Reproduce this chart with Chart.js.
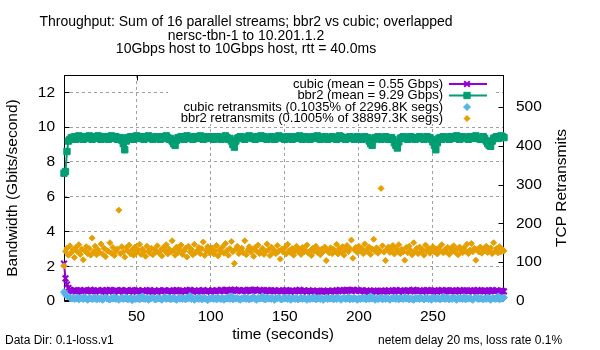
<!DOCTYPE html>
<html><head><meta charset="utf-8">
<script src="https://cdn.jsdelivr.net/npm/chart.js@4/dist/chart.umd.min.js"></script>
<style>html,body{margin:0;padding:0;background:#fff;}canvas{display:block;}</style>
</head><body>
<canvas id="c" width="600" height="350"></canvas>
<script>
const seconds = [
1,2,3,4,5,6,7,8,9,10,11,12,13,14,15,16,17,18,19,20,
21,22,23,24,25,26,27,28,29,30,31,32,33,34,35,36,37,38,39,40,
41,42,43,44,45,46,47,48,49,50,51,52,53,54,55,56,57,58,59,60,
61,62,63,64,65,66,67,68,69,70,71,72,73,74,75,76,77,78,79,80,
81,82,83,84,85,86,87,88,89,90,91,92,93,94,95,96,97,98,99,100,
101,102,103,104,105,106,107,108,109,110,111,112,113,114,115,116,117,118,119,120,
121,122,123,124,125,126,127,128,129,130,131,132,133,134,135,136,137,138,139,140,
141,142,143,144,145,146,147,148,149,150,151,152,153,154,155,156,157,158,159,160,
161,162,163,164,165,166,167,168,169,170,171,172,173,174,175,176,177,178,179,180,
181,182,183,184,185,186,187,188,189,190,191,192,193,194,195,196,197,198,199,200,
201,202,203,204,205,206,207,208,209,210,211,212,213,214,215,216,217,218,219,220,
221,222,223,224,225,226,227,228,229,230,231,232,233,234,235,236,237,238,239,240,
241,242,243,244,245,246,247,248,249,250,251,252,253,254,255,256,257,258,259,260,
261,262,263,264,265,266,267,268,269,270,271,272,273,274,275,276,277,278,279,280,
281,282,283,284,285,286,287,288,289,290,291,292,293,294,295,296,297,298];

const cubicGbps = [
2.15,1.3,0.95,0.75,0.65,0.6,0.57,0.62,0.55,0.6,0.58,0.63,0.54,0.6,0.62,0.57,0.55,0.61,0.64,0.58,
0.6,0.55,0.58,0.62,0.56,0.6,0.63,0.57,0.54,0.61,0.58,0.64,0.6,0.55,0.58,0.62,0.59,0.54,0.6,0.63,
0.58,0.55,0.61,0.58,0.53,0.6,0.63,0.56,0.59,0.54,0.61,0.58,0.55,0.62,0.58,0.54,0.6,0.58,0.63,0.56,
0.54,0.6,0.58,0.55,0.61,0.58,0.53,0.59,0.62,0.58,0.55,0.6,0.58,0.54,0.61,0.58,0.63,0.56,0.59,0.55,
0.6,0.58,0.54,0.61,0.58,0.64,0.59,0.55,0.6,0.58,0.54,0.61,0.56,0.59,0.63,0.58,0.55,0.6,0.58,0.54,
0.61,0.58,0.55,0.62,0.59,0.58,0.64,0.6,0.56,0.61,0.65,0.6,0.58,0.63,0.6,0.66,0.61,0.58,0.62,0.6,
0.58,0.63,0.6,0.56,0.61,0.64,0.6,0.58,0.62,0.66,0.61,0.59,0.63,0.6,0.56,0.61,0.58,0.63,0.6,0.55,
0.6,0.58,0.62,0.59,0.55,0.61,0.58,0.54,0.6,0.58,0.63,0.56,0.59,0.54,0.6,0.58,0.55,0.61,0.58,0.64,
0.59,0.55,0.6,0.58,0.54,0.61,0.58,0.55,0.6,0.56,0.53,0.59,0.55,0.58,0.54,0.6,0.56,0.54,0.59,0.58,
0.55,0.6,0.58,0.54,0.61,0.58,0.63,0.6,0.56,0.61,0.58,0.64,0.6,0.62,0.58,0.65,0.61,0.58,0.63,0.6,
0.58,0.62,0.59,0.55,0.6,0.58,0.54,0.59,0.55,0.6,0.58,0.53,0.58,0.55,0.6,0.58,0.54,0.59,0.56,0.61,
0.58,0.55,0.6,0.58,0.63,0.59,0.55,0.61,0.58,0.54,0.6,0.58,0.62,0.59,0.55,0.6,0.64,0.58,0.61,0.56,
0.6,0.58,0.54,0.61,0.58,0.63,0.6,0.55,0.59,0.58,0.62,0.58,0.54,0.6,0.58,0.63,0.59,0.55,0.61,0.58,
0.6,0.56,0.62,0.58,0.54,0.6,0.58,0.63,0.59,0.55,0.6,0.58,0.62,0.56,0.6,0.58,0.54,0.61,0.58,0.63,
0.59,0.55,0.6,0.58,0.62,0.58,0.54,0.6,0.58,0.63,0.6,0.56,0.61,0.58,0.54,0.6,0.58,0.55];

const bbr2Gbps = [
7.35,7.45,8.6,9.2,9.3,9.4,9.35,9.45,9.3,9.4,9.5,9.35,9.4,9.3,9.45,9.4,9.35,9.5,9.4,9.3,
9.45,9.4,9.35,9.5,9.45,9.3,9.4,9.35,9.45,9.4,9.3,9.4,9.5,9.35,9.4,9.45,9.3,9.35,9.4,9.25,
9.05,8.7,9.2,9.4,9.35,9.45,9.4,9.3,9.4,9.5,9.35,9.4,9.45,9.35,9.3,9.4,9.45,9.5,9.4,9.35,
9.3,9.4,9.45,9.35,9.4,9.3,9.45,9.4,9.35,9.5,9.4,9.3,9.35,9.2,9.05,8.95,9.25,9.4,9.35,9.45,
9.4,9.3,9.45,9.5,9.4,9.35,9.4,9.3,9.45,9.4,9.35,9.4,9.5,9.4,9.3,9.35,9.45,9.4,9.35,9.4,
9.45,9.3,9.4,9.35,9.45,9.4,9.3,9.4,9.35,9.5,9.4,9.3,9.35,9.2,9.0,8.85,9.2,9.35,9.4,9.45,
9.4,9.35,9.3,9.4,9.45,9.5,9.4,9.35,9.4,9.3,9.45,9.4,9.35,9.5,9.4,9.45,9.35,9.3,9.4,9.35,
9.45,9.4,9.3,9.35,9.4,9.5,9.45,9.4,9.35,9.3,9.4,9.45,9.35,9.4,9.3,9.45,9.4,9.35,9.4,9.5,
9.4,9.3,9.35,9.45,9.4,9.35,9.3,9.4,9.45,9.4,9.35,9.5,9.4,9.3,9.4,9.35,9.45,9.4,9.3,9.35,
9.4,9.45,9.35,9.4,9.3,9.4,9.5,9.45,9.35,9.4,9.3,9.35,9.4,9.45,9.4,9.35,9.3,9.4,9.45,9.35,
9.4,9.3,9.4,9.45,9.35,9.4,9.2,9.05,8.95,9.3,9.4,9.35,9.45,9.4,9.3,9.4,9.35,9.45,9.4,9.3,
9.35,9.4,9.3,9.1,8.95,8.8,9.15,9.35,9.4,9.45,9.35,9.4,9.3,9.4,9.45,9.35,9.4,9.3,9.4,9.35,
9.45,9.4,9.35,9.3,9.4,9.45,9.35,9.4,9.3,9.15,8.95,8.7,9.1,9.35,9.4,9.3,9.45,9.4,9.35,9.4,
9.3,9.45,9.4,9.35,9.4,9.5,9.4,9.3,9.35,9.45,9.4,9.35,9.4,9.3,9.45,9.4,9.35,9.4,9.5,9.4,
9.35,9.3,9.4,9.45,9.35,9.2,9.05,8.95,8.9,9.2,9.35,9.4,9.45,9.35,9.4,9.5,9.45,9.4];

const cubicRetrans = [
23,17,13,11,9,7,8,5,6,9,4,7,8,5,10,6,3,8,7,5,
6,9,4,7,5,8,3,6,9,7,5,4,8,6,10,5,7,3,6,8,
5,7,9,4,6,8,2,7,5,6,9,4,7,12,6,5,8,3,6,7,
9,5,4,8,6,7,3,6,10,5,7,8,4,6,9,5,3,7,6,8,
5,7,4,9,6,13,5,8,3,6,7,5,9,4,6,8,5,2,7,6,
8,5,7,4,9,6,5,8,3,7,6,9,5,12,4,7,6,8,5,3,
7,6,9,5,8,4,6,7,10,5,3,8,6,7,12,5,4,9,6,7,
5,8,3,6,7,9,5,4,8,6,7,5,9,3,6,8,5,7,4,6,
9,5,7,6,3,8,5,7,6,10,4,6,8,5,7,3,6,9,5,7,
6,8,4,7,5,9,6,3,7,8,5,6,10,4,7,5,8,6,3,7,
5,8,6,9,4,7,5,12,6,8,3,7,5,6,9,4,7,5,8,6,
3,7,6,9,5,8,4,7,6,5,10,6,8,4,7,5,3,8,6,7,
5,9,6,4,8,7,5,6,3,9,7,5,8,6,4,7,11,5,6,8,
4,7,5,9,6,3,8,6,7,5,10,4,7,6,8,5,3,7,9,6,
5,8,6,4,7,5,9,6,3,8,7,5,6,12,4,7,6,9];

const bbr2Retrans = [
90,128,136,118,142,125,131,112,138,127,145,120,133,106,129,140,122,135,118,162,
127,141,119,132,125,147,121,136,114,130,128,150,123,138,117,129,134,234,122,140,
126,113,137,129,144,121,132,118,139,125,131,146,120,134,127,115,141,128,123,136,
119,133,127,142,124,130,116,138,129,145,121,134,126,155,131,118,139,125,132,144,
120,128,136,113,141,127,133,119,146,125,130,138,122,135,152,117,129,140,124,131,
137,121,128,143,116,132,126,139,123,148,130,118,135,153,127,97,134,141,122,129,
136,124,155,119,131,140,126,133,115,138,128,144,122,130,136,120,127,147,132,117,
139,125,131,122,143,128,108,134,126,137,121,146,130,124,135,118,129,141,127,133,
120,138,126,131,144,123,129,117,136,128,141,125,132,119,134,127,139,104,130,124,
137,122,133,128,146,121,135,126,140,118,131,143,127,135,157,110,132,138,125,141,
129,136,122,147,131,126,139,120,134,159,128,137,123,131,290,142,126,104,133,139,
125,131,143,121,136,128,145,122,133,127,105,138,124,141,130,119,150,128,135,122,
139,127,132,118,144,129,136,123,131,140,126,134,121,137,129,145,124,132,127,138,
120,135,128,142,126,133,119,139,130,124,137,128,146,122,131,148,127,136,105,133,
126,139,123,134,129,141,125,132,137,122,150,128,135,124,140,127,133,129];

const xTickValues = [50, 100, 150, 200, 250];
const yTickValues = [0, 2, 4, 6, 8, 10, 12];
const y2TickValues = [0, 100, 200, 300, 400, 500];
const seriesLabels = [
  'cubic (mean = 0.55 Gbps)',
  'bbr2 (mean = 9.29 Gbps)',
  'cubic retransmits (0.1035% of 2296.8K segs)',
  'bbr2 retransmits (0.1005% of 38897.3K segs)'
];
const titleLines = [
  'Throughput: Sum of 16 parallel streams; bbr2 vs cubic; overlapped',
  'nersc-tbn-1 to 10.201.1.2',
  '10Gbps host to 10Gbps host, rtt = 40.0ms'
];
const xTitle = 'time (seconds)';
const yTitle = 'Bandwidth (Gbits/second)';
const y2Title = 'TCP Retransmits';
const footLeft = 'Data Dir: 0.1-loss.v1';
const footRight = 'netem delay 20 ms, loss rate 0.1%';

const FONT = "'Liberation Sans', Arial, sans-serif";
Chart.defaults.font.family = FONT;
Chart.defaults.color = '#000';

const GRID = '#a0a0a0';

const framePlugin = {
  id: 'frame',
  beforeDatasetsDraw(chart) {
    const ctx = chart.ctx, a = chart.chartArea;
    ctx.save();
    ctx.strokeStyle = '#000';
    ctx.lineWidth = 1;
    const L = Math.round(a.left) + 0.5, R = Math.round(a.right) - 0.5;
    const T = Math.round(a.top) + 0.5, B = Math.round(a.bottom) - 0.5;
    ctx.strokeRect(L, T, R - L, B - T);
    ctx.beginPath();
    const ys = chart.scales.y, y2 = chart.scales.y2, xs = chart.scales.x;
    yTickValues.forEach(v => { const p = Math.round(ys.getPixelForValue(v)) + 0.5; ctx.moveTo(L, p); ctx.lineTo(L + 5, p); });
    y2TickValues.forEach(v => { const p = Math.round(y2.getPixelForValue(v)) + 0.5; ctx.moveTo(R, p); ctx.lineTo(R - 5, p); });
    xTickValues.forEach(v => { const p = Math.round(xs.getPixelForValue(v)) + 0.5; ctx.moveTo(p, B); ctx.lineTo(p, B - 5); ctx.moveTo(p, T); ctx.lineTo(p, T + 5); });
    ctx.stroke();
    ctx.restore();
  }
};

const keyPlugin = {
  id: 'key',
  afterDatasetsDraw(chart) {
    const ctx = chart.ctx;
    ctx.save();
    ctx.fillStyle = '#fff';
    ctx.fillRect(168, 76, 325, 48);
    ctx.font = '13px ' + FONT;
    ctx.textAlign = 'right';
    ctx.textBaseline = 'middle';
    const rowY = [84, 95.5, 107, 118.5];
    chart.data.datasets.forEach((ds, i) => {
      const y = rowY[i];
      ctx.fillStyle = '#000';
      ctx.fillText(ds.label, 443, y);
      ctx.strokeStyle = ds.borderColor;
      ctx.fillStyle = ds.backgroundColor;
      if (ds.showLine !== false) {
        ctx.lineWidth = ds.borderWidth;
        ctx.beginPath(); ctx.moveTo(449, y); ctx.lineTo(487, y); ctx.stroke();
      }
      ctx.lineWidth = ds.pointBorderWidth;
      Chart.helpers.drawPoint(ctx, { pointStyle: ds.pointStyle, radius: ds.pointRadius, borderWidth: ds.pointBorderWidth, rotation: 0 }, 467, y);
    });
    ctx.restore();
  }
};

const textPlugin = {
  id: 'texts',
  afterDraw(chart) {
    const ctx = chart.ctx;
    ctx.save();
    ctx.fillStyle = '#000';
    ctx.textAlign = 'center';
    ctx.textBaseline = 'alphabetic';
    ctx.font = '14px ' + FONT;
    const base = [26, 39.5, 53];
    titleLines.forEach((t, i) => ctx.fillText(t, 246, base[i]));
    ctx.font = '15.5px ' + FONT;
    ctx.textBaseline = 'middle';
    ctx.fillText(xTitle, 283, 335);
    ctx.save(); ctx.translate(13, 188); ctx.rotate(-Math.PI / 2); ctx.fillText(yTitle, 0, 0); ctx.restore();
    ctx.save(); ctx.translate(562, 188); ctx.rotate(-Math.PI / 2); ctx.fillText(y2Title, 0, 0); ctx.restore();
    ctx.font = '12px ' + FONT;
    ctx.textAlign = 'left';
    ctx.fillText(footLeft, 5, 341);
    ctx.fillText(footRight, 378, 341);
    ctx.restore();
  }
};

new Chart(document.getElementById('c'), {
  type: 'line',
  data: {
    labels: seconds,
    datasets: [
      { label: seriesLabels[0], data: cubicGbps, yAxisID: 'y', borderColor: '#9400d3', backgroundColor: '#9400d3',
        borderWidth: 2, pointStyle: 'crossRot', pointRadius: 4, pointBorderWidth: 2, order: 4, clip: false, tension: 0 },
      { label: seriesLabels[1], data: bbr2Gbps, yAxisID: 'y', borderColor: '#009e73', backgroundColor: '#009e73',
        borderWidth: 2, pointStyle: 'rect', pointRadius: 4.5, pointBorderWidth: 1, order: 3, clip: false, tension: 0 },
      { label: seriesLabels[2], data: cubicRetrans, yAxisID: 'y2', borderColor: '#56b4e9', backgroundColor: '#56b4e9',
        showLine: false, borderWidth: 1, pointStyle: 'rectRot', pointRadius: 3.5, pointBorderWidth: 1, order: 2, clip: false },
      { label: seriesLabels[3], data: bbr2Retrans, yAxisID: 'y2', borderColor: '#e69f00', backgroundColor: '#e69f00',
        showLine: false, borderWidth: 1, pointStyle: 'rectRot', pointRadius: 3, pointBorderWidth: 1, order: 1, clip: false }
    ]
  },
  options: {
    responsive: false,
    animation: false,
    devicePixelRatio: 1,
    events: [],
    layout: { padding: { top: 75, left: 0, right: 0, bottom: 0 } },
    plugins: { legend: { display: false }, tooltip: { enabled: false }, title: { display: false } },
    scales: {
      x: {
        type: 'linear', min: 1, max: 298,
        afterBuildTicks: s => { s.ticks = xTickValues.map(v => ({ value: v })); },
        afterFit: s => { s.height = 49; },
        grid: { color: GRID, lineWidth: 1, drawTicks: false },
        border: { display: false, dash: [3, 3] },
        ticks: { font: { size: 15.5 }, padding: 6, maxRotation: 0, autoSkip: false, color: '#000' }
      },
      y: {
        type: 'linear', position: 'left', min: 0, max: 13,
        afterBuildTicks: s => { s.ticks = yTickValues.map(v => ({ value: v })); },
        afterFit: s => { s.width = 64; },
        grid: { color: GRID, lineWidth: 1, drawTicks: false },
        border: { display: false, dash: [3, 3] },
        ticks: { font: { size: 15.5 }, padding: 9, color: '#000' }
      },
      y2: {
        type: 'linear', position: 'right', min: 0, max: 582,
        afterBuildTicks: s => { s.ticks = y2TickValues.map(v => ({ value: v })); },
        afterFit: s => { s.width = 96; },
        grid: { display: false, drawTicks: false },
        border: { display: false },
        ticks: { font: { size: 15.5 }, padding: 12, color: '#000' }
      }
    }
  },
  plugins: [framePlugin, keyPlugin, textPlugin]
});
</script>
</body></html>
